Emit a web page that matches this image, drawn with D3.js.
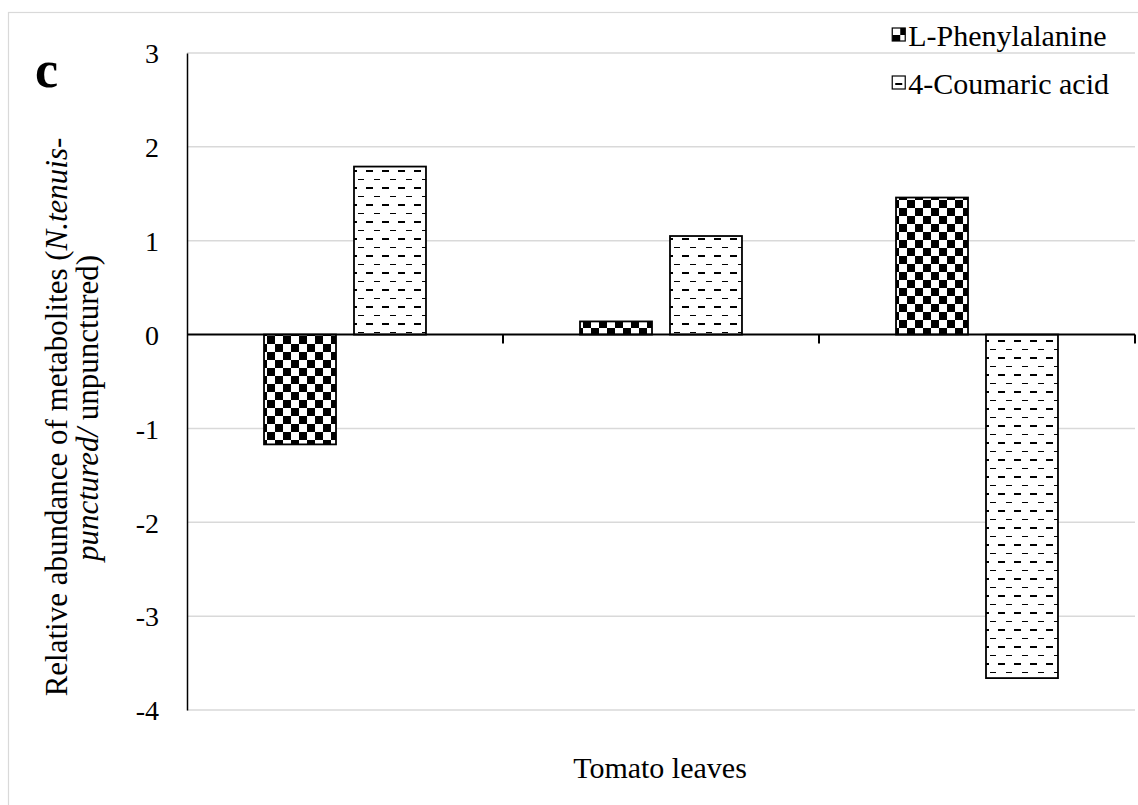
<!DOCTYPE html>
<html>
<head>
<meta charset="utf-8">
<script src="https://cdn.jsdelivr.net/npm/d3@7"></script>
<style>
  html, body { margin: 0; padding: 0; background: #fff; }
  svg { display: block; }
</style>
</head>
<body>
<svg id="chart" width="1138" height="805" font-family="Liberation Serif"></svg>
<script>
// Three tomato-leaf groups (unlabelled on the axis), two metabolites each
const groups = ["A", "B", "C"];
const seriesNames = ["L-Phenylalanine", "4-Coumaric acid"];
const pheValues = [-1.17, 0.14, 1.46];
const coumaricValues = [1.79, 1.05, -3.66];
const yTicks = [-4, -3, -2, -1, 0, 1, 2, 3];
const xTitle = "Tomato leaves";
const panelLetter = "c";

const FONT = "Liberation Serif";
const svg = d3.select("#chart");
const W = 1138, H = 805;
const plot = { left: 187, right: 1135, top: 53, bottom: 710 };

// Patterns: checkerboard for L-Phenylalanine, offset dashes for 4-Coumaric acid
const defs = svg.append("defs");
const checker = defs.append("pattern")
  .attr("id", "checker").attr("patternUnits", "userSpaceOnUse")
  .attr("width", 16).attr("height", 16);
checker.append("rect").attr("width", 16).attr("height", 16).attr("fill", "#fff");
checker.append("rect").attr("x", 0).attr("y", 0).attr("width", 8).attr("height", 8).attr("fill", "#000");
checker.append("rect").attr("x", 8).attr("y", 8).attr("width", 8).attr("height", 8).attr("fill", "#000");

const dashes = defs.append("pattern")
  .attr("id", "dashes").attr("patternUnits", "userSpaceOnUse")
  .attr("width", 16).attr("height", 17);
dashes.append("rect").attr("width", 16).attr("height", 17).attr("fill", "#fff");
dashes.append("rect").attr("x", 3).attr("y", 0).attr("width", 7).attr("height", 2).attr("fill", "#000");
dashes.append("rect").attr("x", 11).attr("y", 9).attr("width", 6).attr("height", 1).attr("fill", "#000");
dashes.append("rect").attr("x", -5).attr("y", 9).attr("width", 6).attr("height", 1).attr("fill", "#000");

const fills = ["url(#checker)", "url(#dashes)"];

// Outer chart frame
svg.append("rect")
  .attr("x", 8.5).attr("y", 12.5).attr("width", W + 10).attr("height", H + 10)
  .attr("fill", "none").attr("stroke", "#d9d9d9").attr("stroke-width", 1.2);

// Scales
const y = d3.scaleLinear().domain([-4, 3]).range([plot.bottom, plot.top]);
const x0 = d3.scaleBand().domain(groups).range([plot.left, plot.right]).paddingInner(0).paddingOuter(0);
const x1 = d3.scaleBand().domain(seriesNames).range([0, x0.bandwidth()])
  .paddingInner(0.2).paddingOuter(0.856);

// Gridlines
svg.append("g")
  .selectAll("line").data(yTicks.filter(d => d !== 0)).join("line")
  .attr("x1", plot.left).attr("x2", plot.right)
  .attr("y1", d => y(d)).attr("y2", d => y(d))
  .attr("stroke", "#d9d9d9").attr("stroke-width", 1.5);

// Y axis
const yAxis = svg.append("g").attr("transform", `translate(${plot.left},0)`)
  .call(d3.axisLeft(y).tickValues(yTicks).tickSize(0).tickPadding(28).tickFormat(d3.format("d")));
yAxis.attr("font-family", FONT).attr("font-size", 28);
yAxis.select(".domain").attr("stroke", "#000").attr("stroke-width", 1.5);
yAxis.selectAll("text")
  .attr("font-family", FONT).attr("font-size", 28)
  .attr("fill", "#000").attr("dy", "0.35em")
  .text(d => d < 0 ? "-" + Math.abs(d) : String(d));

// Bars
const data = groups.map((g, i) => ({ g, vals: [pheValues[i], coumaricValues[i]] }));
const gGroups = svg.append("g").selectAll("g").data(data).join("g")
  .attr("transform", d => `translate(${x0(d.g)},0)`);
gGroups.selectAll("rect").data(d => d.vals.map((v, k) => ({ v, k }))).join("rect")
  .attr("x", d => x1(seriesNames[d.k]))
  .attr("width", x1.bandwidth())
  .attr("y", d => y(Math.max(0, d.v)))
  .attr("height", d => Math.abs(y(d.v) - y(0)))
  .attr("fill", d => fills[d.k])
  .attr("stroke", "#000").attr("stroke-width", 1.8);

// Horizontal category axis at zero, with ticks at category boundaries
const boundaries = groups.map(g => x0(g)).concat([plot.right]);
const xAxisG = svg.append("g");
xAxisG.append("line")
  .attr("x1", plot.left).attr("x2", plot.right)
  .attr("y1", y(0)).attr("y2", y(0))
  .attr("stroke", "#000").attr("stroke-width", 2);
xAxisG.selectAll("line.tick").data(boundaries.slice(1)).join("line")
  .attr("class", "tick")
  .attr("x1", d => d).attr("x2", d => d)
  .attr("y1", y(0)).attr("y2", y(0) + 9)
  .attr("stroke", "#000").attr("stroke-width", 2);

// Axis titles
svg.append("text")
  .attr("x", 660).attr("y", 778)
  .attr("text-anchor", "middle")
  .attr("font-family", FONT).attr("font-size", 30)
  .text(xTitle);

const yTitle = svg.append("g").attr("font-family", FONT).attr("font-size", 31);
const l1 = yTitle.append("text")
  .attr("transform", "translate(67,417) rotate(-90)")
  .attr("text-anchor", "middle");
l1.append("tspan").text("Relative abundance of metabolites (");
l1.append("tspan").attr("font-style", "italic").text("N.tenuis-");
const l2 = yTitle.append("text")
  .attr("transform", "translate(98,408) rotate(-90)")
  .attr("text-anchor", "middle");
l2.append("tspan").attr("font-style", "italic").text("punctured/");
l2.append("tspan").text(" unpunctured)");

// Panel letter
svg.append("text")
  .attr("x", 35).attr("y", 87)
  .attr("font-family", FONT).attr("font-size", 52).attr("font-weight", "bold")
  .text(panelLetter);

// Legend, right edge of the longest label near the plot's right side
const legend = svg.append("g").attr("font-family", FONT).attr("font-size", 30);
const items = legend.selectAll("g").data(seriesNames).join("g");
items.append("rect")
  .attr("x", 0).attr("y", -7).attr("width", 13).attr("height", 13)
  .attr("fill", (d, i) => fills[i]).attr("stroke", "#000").attr("stroke-width", 1.2);
const labels = items.append("text")
  .attr("x", 16).attr("y", 0).attr("dy", "0.35em")
  .text(d => d);
const labelW = d3.max(labels.nodes(), n => n.getComputedTextLength());
const legendX = 1109 - 16 - labelW;
items.attr("transform", (d, i) => `translate(${legendX},${35 + i * 48})`);
</script>
</body>
</html>
